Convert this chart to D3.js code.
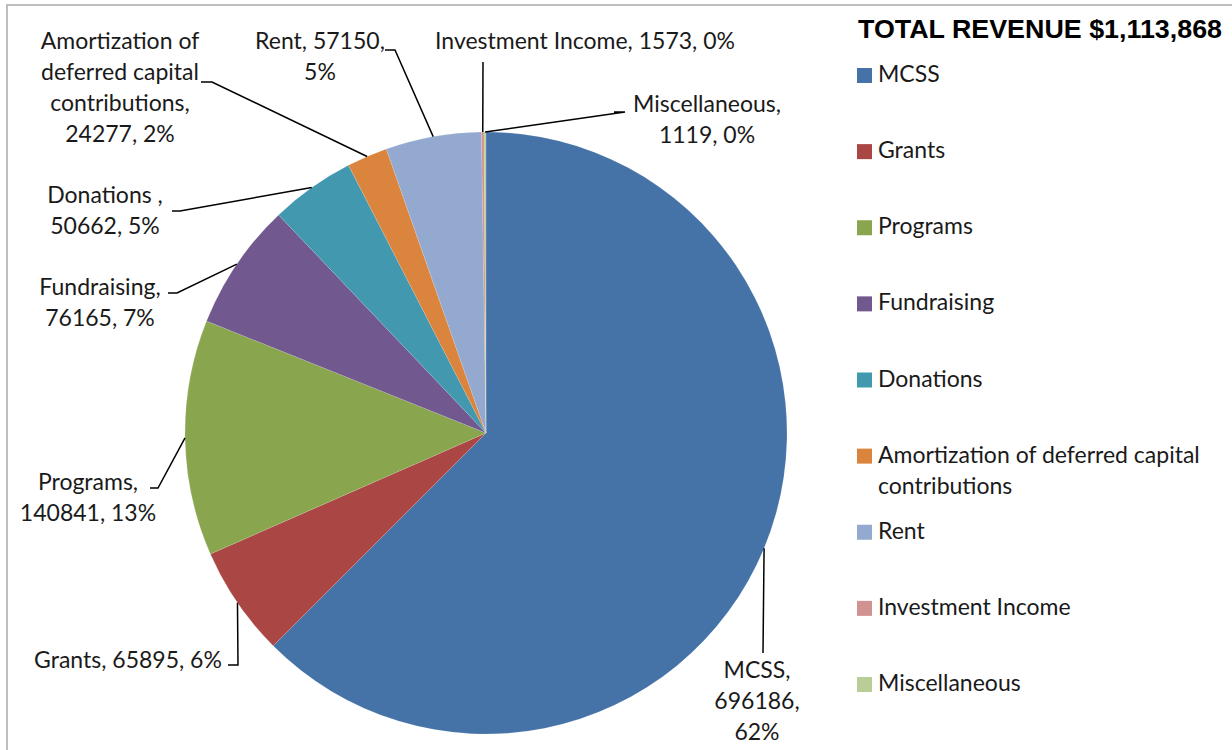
<!DOCTYPE html>
<html>
<head>
<meta charset="utf-8">
<script src="https://cdn.jsdelivr.net/npm/d3@7"></script>
<style>
  body { margin: 0; background: #fff; }
  .lbl { font-family: Lato, "Open Sans", sans-serif; font-size: 23px; fill: #1a1a1a; }
  .title { font-family: "Liberation Sans", Arial, sans-serif; font-weight: bold; font-size: 26px; fill: #000; }
</style>
</head>
<body>
<svg id="chart" width="1232" height="750"></svg>
<script>
// data
var categories = ["MCSS", "Grants", "Programs", "Fundraising", "Donations",
  "Amortization of deferred capital contributions", "Rent", "Investment Income", "Miscellaneous"];
var values = [696186, 65895, 140841, 76165, 50662, 24277, 57150, 1573, 1119];
var percents = ["62%", "6%", "13%", "7%", "5%", "2%", "5%", "0%", "0%"];
var colors = ["#4572A7", "#AA4643", "#89A54E", "#71588F", "#4198AF",
  "#DB843D", "#93A9CF", "#D19392", "#B9CD96"];
var titleText = "TOTAL REVENUE $1,113,868";

// label text lines (as Excel wrapped them)
var labelLines = [
  ["MCSS,", "696186,", "62%"],
  ["Grants, 65895, 6%"],
  ["Programs,", "140841, 13%"],
  ["Fundraising,", "76165, 7%"],
  ["Donations ,", "50662, 5%"],
  ["Amortization of", "deferred capital", "contributions,", "24277, 2%"],
  ["Rent, 57150,", "5%"],
  ["Investment Income, 1573, 0%"],
  ["Miscellaneous,", "1119, 0%"]
];

// layout: label centre x, first baseline y, leader end points
var labelPos = [
  {x: 757, y: 678, pts: [[763, 653]]},
  {x: 128, y: 668, pts: [[238, 665], [228, 665]]},
  {x: 88, y: 490, pts: [[158, 488], [150, 488]]},
  {x: 100, y: 295, pts: [[177, 293], [168, 293]]},
  {x: 105, y: 203, pts: [[180, 211], [172, 211]]},
  {x: 120, y: 49, pts: [[212, 82], [201, 82]]},
  {x: 320, y: 49, pts: [[395, 50], [385, 50]]},
  {x: 585, y: 49, pts: [[483, 62]]},
  {x: 707, y: 112, pts: [[625, 112], [614, 112]]}
];

var svg = d3.select("#chart");
var cx = 486, cy = 433, radius = 301;
var lineH = 31;

// frame
svg.append("path")
  .attr("d", "M7,750 V5 H1232")
  .attr("fill", "none")
  .attr("stroke", "#bdbdbd")
  .attr("stroke-width", 2);

var pie = d3.pie().sort(null).value(function(d) { return d; });
var arcs = pie(values);
var arc = d3.arc().innerRadius(0).outerRadius(radius);

var g = svg.append("g").attr("transform", "translate(" + cx + "," + cy + ")");

g.selectAll("path.slice")
  .data(arcs)
  .enter().append("path")
  .attr("class", "slice")
  .attr("d", arc)
  .attr("fill", function(d, i) { return colors[i]; })
  .attr("stroke", "rgba(255,255,255,0.25)")
  .attr("stroke-width", 0.5);

// leader lines
arcs.forEach(function(d, i) {
  var a = (d.startAngle + d.endAngle) / 2;
  var sx = cx + radius * Math.sin(a), sy = cy - radius * Math.cos(a);
  var pts = [[sx, sy]].concat(labelPos[i].pts);
  svg.append("path")
    .attr("d", d3.line()(pts))
    .attr("fill", "none")
    .attr("stroke", "#000")
    .attr("stroke-width", 1.5);
});

// data labels
labelLines.forEach(function(lines, i) {
  var t = svg.append("text")
    .attr("class", "lbl")
    .attr("text-anchor", "middle");
  lines.forEach(function(s, j) {
    t.append("tspan")
      .attr("x", labelPos[i].x)
      .attr("y", labelPos[i].y + j * lineH)
      .text(s);
  });
});

// title
svg.append("text")
  .attr("class", "title")
  .attr("x", 858)
  .attr("y", 38)
  .attr("textLength", 364)
  .attr("lengthAdjust", "spacingAndGlyphs")
  .text(titleText);

// legend
var legY = d3.scalePoint().domain(categories).range([82, 691]);
var leg = svg.append("g");
categories.forEach(function(c, i) {
  var y = legY(c);
  leg.append("rect")
    .attr("x", 857).attr("y", y - 14)
    .attr("width", 15).attr("height", 15)
    .attr("fill", colors[i]);
  var t = leg.append("text").attr("class", "lbl").attr("x", 878).attr("y", y);
  if (c.length > 35) {
    t.append("tspan").attr("x", 878).attr("y", y).text("Amortization of deferred capital");
    t.append("tspan").attr("x", 878).attr("y", y + 31).text("contributions");
  } else {
    t.text(c);
  }
});
</script>
</body>
</html>
